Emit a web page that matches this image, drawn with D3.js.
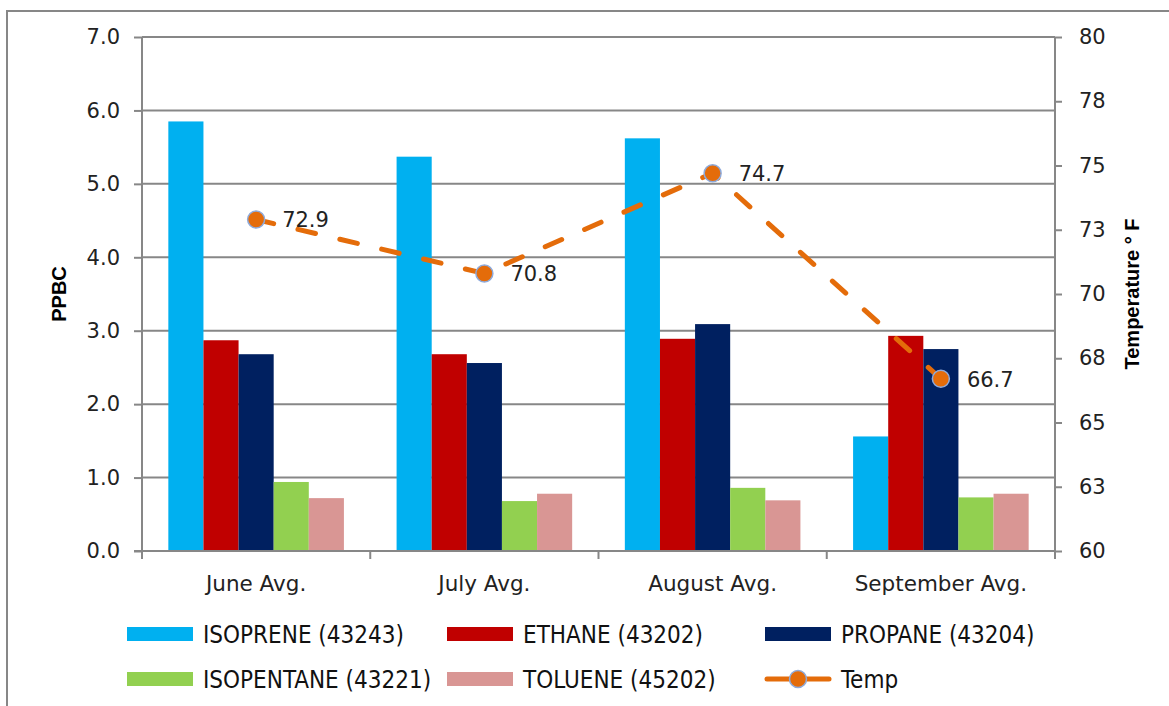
<!DOCTYPE html>
<html>
<head>
<meta charset="utf-8">
<script src="https://cdn.jsdelivr.net/npm/d3@7"></script>
<style>
  body { margin: 0; background: #fff; }
  .canvas { width: 1169px; height: 706px; overflow: hidden; }
</style>
</head>
<body>
<div class="canvas"></div>
<script>
const categories = ['June Avg.', 'July Avg.', 'August Avg.', 'September Avg.'];
const seriesNames = ['ISOPRENE (43243)', 'ETHANE (43202)', 'PROPANE (43204)', 'ISOPENTANE (43221)', 'TOLUENE (45202)'];
const isoprene = [5.85, 5.37, 5.62, 1.56];
const ethane = [2.87, 2.68, 2.89, 2.93];
const propane = [2.68, 2.56, 3.09, 2.75];
const isopentane = [0.94, 0.68, 0.86, 0.73];
const toluene = [0.72, 0.78, 0.69, 0.78];
const temp = [72.9, 70.8, 74.7, 66.7];
const leftTicks = [0, 1, 2, 3, 4, 5, 6, 7];
const rightTicks = [60, 62.5, 65, 67.5, 70, 72.5, 75, 77.5, 80];

const seriesValues = [isoprene, ethane, propane, isopentane, toluene];
const colours = ['#00b0f0', '#c00000', '#002060', '#92d050', '#d99694'];
const tempColour = '#e46c0a';
const grey = '#878787';
const numFont = '"DejaVu Sans", Verdana, sans-serif';
const legendFont = '"Liberation Sans Narrow", "DejaVu Sans Condensed", "Arial Narrow", sans-serif';

const svg = d3.select('.canvas')
  .append('svg')
  .attr('width', 1169)
  .attr('height', 706);

// outer chart frame (runs off the right and bottom edges)
svg.append('rect')
  .attr('x', 7).attr('y', 11)
  .attr('width', 1200).attr('height', 800)
  .attr('fill', 'none')
  .attr('stroke', grey)
  .attr('stroke-width', 2);

const plotLeft = 142, plotRight = 1055, plotTop = 37, plotBottom = 551;

const x = d3.scaleBand()
  .domain(categories)
  .range([plotLeft, plotRight])
  .paddingInner(1.5 / 6.5)
  .paddingOuter(0.75 / 6.5);

const xSub = d3.scaleBand()
  .domain(d3.range(seriesNames.length))
  .range([0, x.bandwidth()]);

const y = d3.scaleLinear().domain([0, 7]).range([plotBottom, plotTop]);
const yTemp = d3.scaleLinear().domain([60, 80]).range([plotBottom, plotTop]);

// gridlines
svg.append('g')
  .selectAll('line')
  .data(leftTicks.filter(d => d > 0))
  .join('line')
  .attr('x1', plotLeft).attr('x2', plotRight)
  .attr('y1', d => y(d)).attr('y2', d => y(d))
  .attr('stroke', grey)
  .attr('stroke-width', 2);

// bars
const groups = svg.append('g')
  .selectAll('g')
  .data(categories)
  .join('g')
  .attr('transform', d => `translate(${x(d)},0)`);

groups.selectAll('rect')
  .data((c, i) => seriesValues.map((s, k) => ({ k, v: s[i] })))
  .join('rect')
  .attr('x', d => xSub(d.k))
  .attr('width', xSub.bandwidth())
  .attr('y', d => y(d.v))
  .attr('height', d => plotBottom - y(d.v))
  .attr('fill', d => colours[d.k]);

// left axis
const yAxis = svg.append('g')
  .attr('transform', `translate(${plotLeft},0)`)
  .call(d3.axisLeft(y).tickValues(leftTicks).tickFormat(d3.format('.1f')).tickSize(8).tickPadding(14));

// right axis
const yAxisR = svg.append('g')
  .attr('transform', `translate(${plotRight},0)`)
  .call(d3.axisRight(yTemp).tickValues(rightTicks).tickFormat(d => Math.round(d)).tickSize(7).tickPadding(17));

// bottom axis
const xAxis = svg.append('g')
  .attr('transform', `translate(0,${plotBottom})`)
  .call(d3.axisBottom(x).tickSize(0).tickPadding(25));

xAxis.selectAll('.tick')
  .append('line')
  .attr('x1', x.step() / 2).attr('x2', x.step() / 2)
  .attr('y1', 0).attr('y2', 8);

xAxis.append('line')
  .attr('x1', plotLeft).attr('x2', plotLeft)
  .attr('y1', 0).attr('y2', 8);

[yAxis, yAxisR, xAxis].forEach(a => {
  a.select('.domain').attr('stroke', grey).attr('stroke-width', 2);
  a.selectAll('line').attr('stroke', grey).attr('stroke-width', 2);
  a.selectAll('text')
    .attr('fill', '#222')
    .style('font-family', numFont)
    .style('font-size', '21px');
});
xAxis.selectAll('.tick text').style('font-size', '21.5px');
xAxis.select('.domain').attr('d', `M${plotLeft - 8},0H${plotRight}`);
yAxis.select('.domain').attr('d', `M0,${plotTop}V${plotBottom + 8}`);
yAxisR.select('.domain').attr('d', `M0,${plotTop}V${plotBottom + 8}`);

// axis titles
svg.append('text')
  .attr('transform', `translate(66,${(plotTop + plotBottom) / 2}) rotate(-90)`)
  .attr('text-anchor', 'middle')
  .style('font-family', '"Liberation Sans", Arial, sans-serif')
  .style('font-weight', 'bold')
  .style('font-size', '20px')
  .text('PPBC');

svg.append('text')
  .attr('transform', `translate(1139,${(plotTop + plotBottom) / 2}) rotate(-90)`)
  .attr('text-anchor', 'middle')
  .style('font-family', '"Liberation Sans", Arial, sans-serif')
  .style('font-weight', 'bold')
  .style('font-size', '20px')
  .text('Temperature ° F');

// temperature line
const cx = d => x(d) + x.bandwidth() / 2;
const tempPts = categories.map((c, i) => [cx(c), yTemp(temp[i])]);

svg.append('path')
  .attr('d', d3.line()(tempPts))
  .attr('fill', 'none')
  .attr('stroke', tempColour)
  .attr('stroke-width', 5)
  .attr('stroke-linecap', 'round')
  .attr('stroke-dasharray', '18,25');

svg.append('g')
  .selectAll('circle')
  .data(tempPts)
  .join('circle')
  .attr('cx', d => d[0]).attr('cy', d => d[1])
  .attr('r', 8.5)
  .attr('fill', tempColour)
  .attr('stroke', '#8eaadb')
  .attr('stroke-width', 1.5);

svg.append('g')
  .selectAll('text')
  .data(tempPts)
  .join('text')
  .attr('x', d => d[0] + 26)
  .attr('y', d => d[1])
  .attr('dy', '0.38em')
  .attr('fill', '#222')
  .style('font-family', numFont)
  .style('font-size', '21px')
  .text((d, i) => temp[i].toFixed(1));

// legend
const legendItems = seriesNames.map((n, k) => ({ name: n, colour: colours[k], line: false }))
  .concat([{ name: 'Temp', colour: tempColour, line: true }]);
const legX = [127, 447, 765];
const legY = [634, 679];

const leg = svg.append('g')
  .selectAll('g')
  .data(legendItems)
  .join('g')
  .attr('transform', (d, i) => `translate(${legX[i % 3]},${legY[Math.floor(i / 3)]})`);

leg.filter(d => !d.line)
  .append('rect')
  .attr('x', 0).attr('y', -7)
  .attr('width', 66).attr('height', 14)
  .attr('fill', d => d.colour);

const lineLeg = leg.filter(d => d.line);
lineLeg.append('line')
  .attr('x1', 2).attr('x2', 64)
  .attr('y1', 0).attr('y2', 0)
  .attr('stroke', tempColour)
  .attr('stroke-width', 5)
  .attr('stroke-linecap', 'round');
lineLeg.append('circle')
  .attr('cx', 33).attr('cy', 0).attr('r', 8.5)
  .attr('fill', tempColour)
  .attr('stroke', '#8eaadb')
  .attr('stroke-width', 1.5);

leg.append('text')
  .attr('x', 76)
  .attr('dy', '0.36em')
  .attr('fill', '#111')
  .style('font-family', legendFont)
  .style('font-size', '24px')
  .text(d => d.name);
</script>
</body>
</html>
